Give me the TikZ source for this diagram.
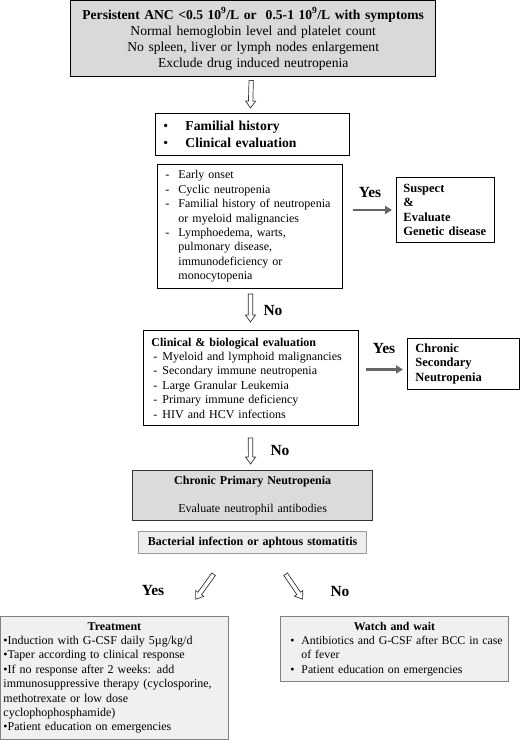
\documentclass[tikz,border=0pt]{standalone}
\usepackage{fontspec}
\setmainfont{Liberation Serif}
\usetikzlibrary{arrows.meta,calc}
\newcommand\dsh{\makebox[13pt][l]{-}}
\newcommand\dshb{\makebox[11pt][l]{\hspace{2pt}-}}
\newcommand\bul{\makebox[13pt][l]{\hspace{2pt}\textbullet}}
\newcommand\openarrow[2]{%
  \draw[openarr] let \p1=(#1), \p2=(#2), \n1={atan2(\y2-\y1,\x2-\x1)},
      \n2={veclen(\x2-\x1,\y2-\y1)-7} in
    ($(\p1)+(\n1+90:2.2pt)$) -- ($(\p1)+(\n1:\n2)+(\n1+90:2.2pt)$)
    -- ($(\p1)+(\n1:\n2)+(\n1+90:5pt)$) -- (\p2)
    -- ($(\p1)+(\n1:\n2)+(\n1-90:5pt)$) -- ($(\p1)+(\n1:\n2)+(\n1-90:2.2pt)$)
    -- ($(\p1)+(\n1-90:2.2pt)$) -- cycle;}
\begin{document}
\begin{tikzpicture}[x=1pt,y=-1pt,
  box/.style={draw=black, line width=0.9pt, anchor=north west, inner ysep=0pt, align=left},
  body/.style={font=\fontsize{12}{14.4}\selectfont},
  openarr/.style={draw=black!80, line width=0.7pt, fill=white, line join=miter},
  yesarr/.style={draw=black!60, line width=2.6pt, -{Triangle[length=7pt,width=8pt]}},
  lbl/.style={font=\fontsize{15.5}{17}\selectfont\bfseries, inner sep=0pt}
]
\useasboundingbox (0,0) rectangle (520,740);

\node[box, line width=1.4pt, fill=black!15, text width=353pt, inner xsep=6pt, minimum height=76pt,
  align=center, font=\fontsize{13.6}{16}\selectfont] (top) at (70,0)
  {\textbf{Persistent ANC <0.5 10\textsuperscript{9}/L or \ 0.5-1 10\textsuperscript{9}/L with symptoms}\\
   Normal hemoglobin level and platelet count\\
   No spleen, liver or lymph nodes enlargement\\
   Exclude drug induced neutropenia};

\node[box, text width=178pt, inner xsep=8pt, minimum height=42pt,
  font=\fontsize{13.7}{17}\selectfont\bfseries] (fam) at (155,113)
  {\makebox[22pt][l]{\mdseries\textbullet}Familial history\\
   \makebox[22pt][l]{\mdseries\textbullet}Clinical evaluation};

\node[box, body, text width=169pt, inner xsep=8pt, minimum height=124pt] (crit) at (157,164)
  {\dsh Early onset\\
   \dsh Cyclic neutropenia\\
   \dsh\mbox{Familial history of neutropenia}\\
   \hspace*{13pt}or myeloid malignancies\\
   \dsh Lymphoedema, warts,\\
   \hspace*{13pt}pulmonary disease,\\
   \hspace*{13pt}immunodeficiency or\\
   \hspace*{13pt}monocytopenia};

\node[box, text width=84pt, inner xsep=7pt, minimum height=65pt,
  font=\fontsize{12.5}{14.4}\selectfont\bfseries] (gen) at (396,177)
  {Suspect\\ \&\\ Evaluate\\ \mbox{Genetic disease}};

\node[box, body, text width=199pt, inner xsep=8pt, minimum height=95pt] (clin) at (143,330)
  {\textbf{Clinical \& biological evaluation}\\
   \dshb\mbox{Myeloid and lymphoid malignancies}\\
   \dshb Secondary immune neutropenia\\
   \dshb Large Granular Leukemia\\
   \dshb Primary immune deficiency\\
   \dshb HIV and HCV infections};

\node[box, text width=96pt, inner xsep=8pt, minimum height=51pt,
  font=\fontsize{12.5}{14.2}\selectfont\bfseries] (sec) at (407,338)
  {Chronic\\ Secondary\\ Neutropenia};

\node[box, body, draw=black!80, line width=1.3pt, fill=black!14, text width=230pt, inner xsep=5pt,
  minimum height=50pt, align=center] (cpn) at (132,470)
  {\textbf{Chronic Primary Neutropenia}\\[14pt]
   Evaluate neutrophil antibodies};

\node[box, body, draw=black!40, line width=1.2pt, fill=black!7, text width=218pt, inner xsep=5pt,
  minimum height=22pt, align=center] (bact) at (138,531)
  {\textbf{Bacterial infection or aphtous stomatitis}};

\node[box, body, draw=black!50, line width=0.9pt, fill=black!6, text width=222pt, inner xsep=3pt,
  minimum height=123pt] (treat) at (0,616)
  {\makebox[222pt]{\textbf{Treatment}}\\
   \mbox{•Induction with G-CSF daily 5µg/kg/d}\\
   \mbox{•Taper according to clinical response}\\
   \mbox{•If no response after 2 weeks: add}\\
   \mbox{immunosuppressive therapy (cyclosporine,}\\
   \mbox{methotrexate or low dose}\\
   \mbox{cyclophophosphamide)}\\
   \mbox{•Patient education on emergencies}};

\node[box, font=\fontsize{11.8}{14.4}\selectfont, draw=black!50, line width=0.9pt, fill=black!6, text width=212pt, inner xsep=8pt,
  minimum height=65pt] (watch) at (280,616)
  {\makebox[212pt]{\textbf{Watch and wait}}\\
   \bul\mbox{Antibiotics and G-CSF after BCC in case}\\
   \hspace*{13pt}of fever\\
   \bul Patient education on emergencies};

% open arrows
\coordinate (a1s) at ($(top.south)+(-2,3)$);
\coordinate (a1e) at ($(fam.north)+(-2,-5)$);
\coordinate (a2s) at ($(crit.south)+(0.5,5)$);
\coordinate (a2e) at ($(clin.north)+(-0.5,-8)$);
\coordinate (a3s) at ($(clin.south)+(-0.5,12)$);
\coordinate (a3e) at ($(cpn.north)+(-2,-6)$);
\coordinate (a4s) at ($(bact.south)+(-39,20)$);
\coordinate (a4e) at ($(bact.south)+(-57,45)$);
\coordinate (a5s) at ($(bact.south)+(33,20)$);
\coordinate (a5e) at ($(bact.south)+(50,45)$);
\openarrow{a1s}{a1e}
\openarrow{a2s}{a2e}
\openarrow{a3s}{a3e}
\openarrow{a4s}{a4e}
\openarrow{a5s}{a5e}

% yes arrows
\draw[yesarr, shorten <=10pt, shorten >=4pt] (crit.east |- gen.west) -- (gen.west);
\draw[yesarr] ($(clin.east |- sec.west)+(7,5.5)$) -- ($(sec.west)+(-4,5.5)$);

% labels
\node[lbl] (y1) at (370,192) {Yes};
\node[lbl] (y2) at (384,348) {Yes};
\node[lbl] (n1) at (273,310) {No};
\node[lbl] (n2) at (280,450) {No};
\node[lbl] (y3) at (153,590) {Yes};
\node[lbl] (n3) at (340,591) {No};
\end{tikzpicture}
\end{document}
